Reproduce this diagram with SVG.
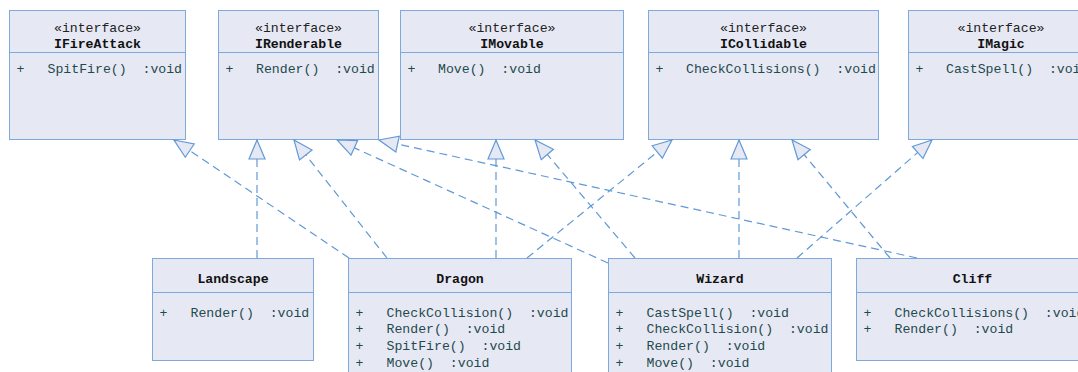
<svg xmlns="http://www.w3.org/2000/svg" width="1078" height="372" viewBox="0 0 1078 372">
<style>
.box{fill:#e6e8f4;stroke:#7ea9dc;stroke-width:1}
.sep{stroke:#7ea9dc;stroke-width:1}
.st{font-family:"Liberation Mono","DejaVu Sans Mono",monospace;font-size:13.2px;fill:#222;text-anchor:middle}
.nm{font-family:"Liberation Mono","DejaVu Sans Mono",monospace;font-size:13.2px;font-weight:bold;fill:#111;text-anchor:middle}
.m{font-family:"Liberation Mono","DejaVu Sans Mono",monospace;font-size:13.2px;fill:#1f4a4c}
.c{fill:none;stroke:#6199d6;stroke-width:1.2;stroke-dasharray:8 5;marker-end:url(#tri)}
</style>
<defs>
<marker id="tri" markerUnits="userSpaceOnUse" markerWidth="22" markerHeight="20" viewBox="0 0 22 20" refX="20" refY="9" orient="auto">
<path d="M1,1 L20,9 L1,17 Z" fill="#e6e8f4" stroke="#6199d6" stroke-width="1.2" stroke-dasharray="none"/>
</marker>
</defs>
<rect width="1078" height="372" fill="#ffffff"/>
<g id="IFireAttack">
<rect class="box" x="9.5" y="10.5" width="176" height="129"/>
<line class="sep" x1="9.5" y1="52.5" x2="185.5" y2="52.5"/>
<text class="st" x="97.5" y="32">«interface»</text>
<text class="nm" x="97.5" y="48">IFireAttack</text>
<text class="m" x="16.5" y="73">+</text>
<text class="m" x="47.5" y="73" xml:space="preserve">SpitFire()  :void</text>
</g>
<g id="IRenderable">
<rect class="box" x="218.5" y="10.5" width="160" height="129"/>
<line class="sep" x1="218.5" y1="52.5" x2="378.5" y2="52.5"/>
<text class="st" x="298.5" y="32">«interface»</text>
<text class="nm" x="298.5" y="48">IRenderable</text>
<text class="m" x="225.5" y="73">+</text>
<text class="m" x="256" y="73" xml:space="preserve">Render()  :void</text>
</g>
<g id="IMovable">
<rect class="box" x="400.5" y="10.5" width="223" height="129"/>
<line class="sep" x1="400.5" y1="52.5" x2="623.5" y2="52.5"/>
<text class="st" x="512" y="32">«interface»</text>
<text class="nm" x="512" y="48">IMovable</text>
<text class="m" x="407.5" y="73">+</text>
<text class="m" x="438" y="73" xml:space="preserve">Move()  :void</text>
</g>
<g id="ICollidable">
<rect class="box" x="648.5" y="10.5" width="230" height="129"/>
<line class="sep" x1="648.5" y1="52.5" x2="878.5" y2="52.5"/>
<text class="st" x="763.5" y="32">«interface»</text>
<text class="nm" x="763.5" y="48">ICollidable</text>
<text class="m" x="655.5" y="73">+</text>
<text class="m" x="686" y="73" xml:space="preserve">CheckCollisions()  :void</text>
</g>
<g id="IMagic">
<rect class="box" x="908.5" y="10.5" width="185" height="129"/>
<line class="sep" x1="908.5" y1="52.5" x2="1093.5" y2="52.5"/>
<text class="st" x="1001" y="32">«interface»</text>
<text class="nm" x="1001" y="48">IMagic</text>
<text class="m" x="915.5" y="73">+</text>
<text class="m" x="946" y="73" xml:space="preserve">CastSpell()  :void</text>
</g>
<g id="Landscape">
<rect class="box" x="152.5" y="258.5" width="161" height="102"/>
<line class="sep" x1="152.5" y1="292.5" x2="313.5" y2="292.5"/>
<text class="nm" x="233" y="282.5">Landscape</text>
<text class="m" x="159.5" y="316.5">+</text>
<text class="m" x="190.5" y="316.5" xml:space="preserve">Render()  :void</text>
</g>
<g id="Dragon">
<rect class="box" x="348.5" y="258.5" width="223" height="130"/>
<line class="sep" x1="348.5" y1="292.5" x2="571.5" y2="292.5"/>
<text class="nm" x="460" y="282.5">Dragon</text>
<text class="m" x="355.5" y="316.5">+</text>
<text class="m" x="386.5" y="316.5" xml:space="preserve">CheckCollision()  :void</text>
<text class="m" x="355.5" y="333.2">+</text>
<text class="m" x="386.5" y="333.2" xml:space="preserve">Render()  :void</text>
<text class="m" x="355.5" y="349.9">+</text>
<text class="m" x="386.5" y="349.9" xml:space="preserve">SpitFire()  :void</text>
<text class="m" x="355.5" y="366.6">+</text>
<text class="m" x="386.5" y="366.6" xml:space="preserve">Move()  :void</text>
</g>
<g id="Wizard">
<rect class="box" x="608.5" y="258.5" width="223" height="130"/>
<line class="sep" x1="608.5" y1="292.5" x2="831.5" y2="292.5"/>
<text class="nm" x="720" y="282.5">Wizard</text>
<text class="m" x="615.5" y="316.5">+</text>
<text class="m" x="646.5" y="316.5" xml:space="preserve">CastSpell()  :void</text>
<text class="m" x="615.5" y="333.2">+</text>
<text class="m" x="646.5" y="333.2" xml:space="preserve">CheckCollision()  :void</text>
<text class="m" x="615.5" y="349.9">+</text>
<text class="m" x="646.5" y="349.9" xml:space="preserve">Render()  :void</text>
<text class="m" x="615.5" y="366.6">+</text>
<text class="m" x="646.5" y="366.6" xml:space="preserve">Move()  :void</text>
</g>
<g id="Cliff">
<rect class="box" x="856.5" y="258.5" width="232" height="102"/>
<line class="sep" x1="856.5" y1="292.5" x2="1088.5" y2="292.5"/>
<text class="nm" x="972.5" y="282.5">Cliff</text>
<text class="m" x="863.5" y="316.5">+</text>
<text class="m" x="894.5" y="316.5" xml:space="preserve">CheckCollisions()  :void</text>
<text class="m" x="863.5" y="333.2">+</text>
<text class="m" x="894.5" y="333.2" xml:space="preserve">Render()  :void</text>
</g>
<g id="connectors">
<path class="c" d="M257,258 L257,140"/>
<path class="c" d="M349,258 L174,140"/>
<path class="c" d="M387,258 L294,140"/>
<path class="c" d="M496,258 L496,140"/>
<path class="c" d="M527,258 L672,140"/>
<path class="c" d="M608,263 L337,140"/>
<path class="c" d="M635,258 L535,140"/>
<path class="c" d="M739,258 L739,140"/>
<path class="c" d="M797,258 L932,140"/>
<path class="c" d="M917,258 L379,140"/>
<path class="c" d="M890,258 L792,140"/>
</g>
</svg>
